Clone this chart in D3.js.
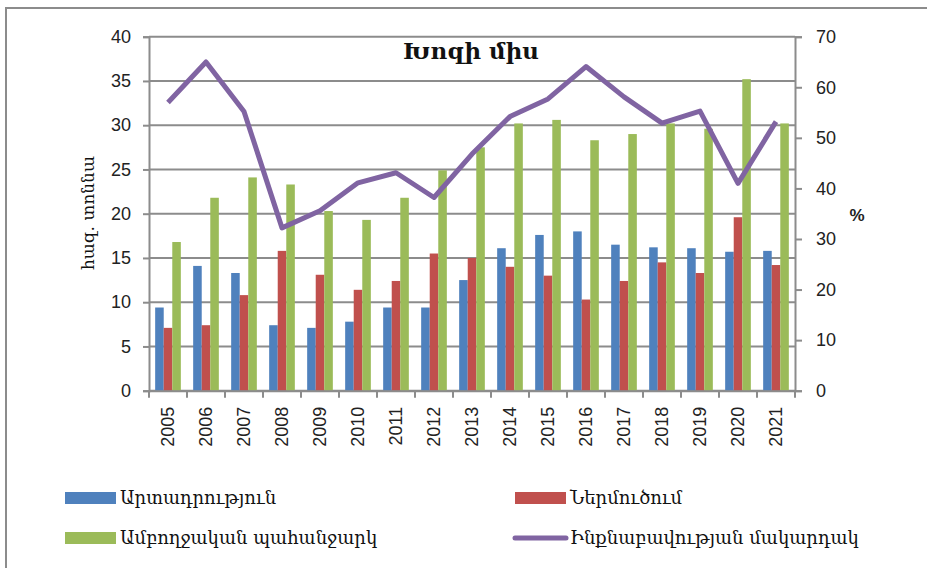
<!DOCTYPE html>
<html>
<head>
<meta charset="utf-8">
<script src="https://cdn.jsdelivr.net/npm/d3@7"></script>
<style>
  body { margin: 0; background: #fff; }
  .tick text { font-family: "Liberation Sans", Arial, sans-serif; fill: #222; }
  .arm { font-family: "DejaVu Serif", serif; fill: #111; }
</style>
</head>
<body>
<div id="chart"></div>
<script>
// data
let years = ["2005","2006","2007","2008","2009","2010","2011","2012","2013","2014","2015","2016","2017","2018","2019","2020","2021"];
let production = [9.4, 14.1, 13.3, 7.4, 7.1, 7.8, 9.4, 9.4, 12.5, 16.1, 17.6, 18.0, 16.5, 16.2, 16.1, 15.7, 15.8];
let imports = [7.1, 7.4, 10.8, 15.8, 13.1, 11.4, 12.4, 15.5, 15.0, 14.0, 13.0, 10.3, 12.4, 14.5, 13.3, 19.6, 14.2];
let demand = [16.8, 21.8, 24.1, 23.3, 20.3, 19.3, 21.8, 24.9, 27.5, 30.2, 30.6, 28.3, 29.0, 30.2, 29.6, 35.2, 30.2];
let selfSufficiency = [57, 65, 55.2, 32.2, 35.6, 41.1, 43.1, 38.2, 46.8, 54.2, 57.7, 64.1, 58.1, 52.9, 55.3, 41.0, 53.2];

let leftTicks = [0, 5, 10, 15, 20, 25, 30, 35, 40];
let rightTicks = [0, 10, 20, 30, 40, 50, 60, 70];

let seriesNames = ["Արտադրություն", "Ներմուծում", "Ամբողջական պահանջարկ", "Ինքնաբավության մակարդակ"];
let colors = ["#4F81BD", "#C0504D", "#9BBB59", "#8064A2"];

let svgWidth = 927;
let svgHeight = 568;

// plot area
let plot = { left: 149, right: 795, top: 36.7, bottom: 390.7 };

let svg = d3.select("#chart")
    .append("svg")
    .attr("width", svgWidth)
    .attr("height", svgHeight);

// outer frame (runs off the right and bottom edges in the reference)
svg.append("rect")
    .attr("x", 6).attr("y", 8)
    .attr("width", 1000).attr("height", 700)
    .attr("fill", "none")
    .attr("stroke", "#8c8c8c")
    .attr("stroke-width", 2);

let x = d3.scaleBand().domain(years).range([plot.left, plot.right]);
let x1 = d3.scaleBand().domain([0, 1, 2]).range([0, x.bandwidth()]).paddingOuter(0.72);
let yLeft = d3.scaleLinear().domain([0, 40]).range([plot.bottom, plot.top]);
let yRight = d3.scaleLinear().domain([0, 70]).range([plot.bottom, plot.top]);

// gridlines
svg.append("g")
    .selectAll("line")
    .data(leftTicks)
    .enter()
    .append("line")
    .attr("x1", plot.left).attr("x2", plot.right)
    .attr("y1", d => yLeft(d)).attr("y2", d => yLeft(d))
    .attr("stroke", "#8c8c8c")
    .attr("stroke-width", 2);

// bars
let barSeries = [production, imports, demand];
barSeries.forEach(function(vals, i) {
    svg.append("g")
        .selectAll("rect")
        .data(vals)
        .enter()
        .append("rect")
        .attr("x", (d, j) => x(years[j]) + x1(i))
        .attr("y", d => yLeft(d))
        .attr("width", x1.bandwidth())
        .attr("height", d => yLeft(0) - yLeft(d))
        .attr("fill", colors[i]);
});

// axes
let leftAxis = d3.axisLeft(yLeft).tickValues(leftTicks).tickSize(6).tickPadding(12);
let rightAxis = d3.axisRight(yRight).tickValues(rightTicks).tickSize(7).tickPadding(14);
let bottomAxis = d3.axisBottom(x).tickSize(0).tickFormat("");

let gl = svg.append("g").attr("transform", `translate(${plot.left},0)`).call(leftAxis);
let gr = svg.append("g").attr("transform", `translate(${plot.right},0)`).call(rightAxis);
let gb = svg.append("g").attr("transform", `translate(0,${plot.bottom})`).call(bottomAxis);

[gl, gr, gb].forEach(function(g) {
    g.select(".domain").attr("stroke", "#8c8c8c").attr("stroke-width", 2);
    g.selectAll(".tick line").attr("stroke", "#8c8c8c").attr("stroke-width", 2);
    g.selectAll(".tick text").attr("font-size", 18);
});

// category tick marks at band edges
svg.append("g")
    .selectAll("line")
    .data(years.concat(["end"]))
    .enter()
    .append("line")
    .attr("x1", (d, i) => plot.left + i * x.step())
    .attr("x2", (d, i) => plot.left + i * x.step())
    .attr("y1", plot.bottom).attr("y2", plot.bottom + 7)
    .attr("stroke", "#8c8c8c")
    .attr("stroke-width", 2);

// year labels, rotated
svg.append("g")
    .selectAll("text")
    .data(years)
    .enter()
    .append("text")
    .attr("transform", d => `translate(${x(d) + x.bandwidth() / 2 + 6}, ${plot.bottom + 16}) rotate(-90)`)
    .attr("text-anchor", "end")
    .attr("font-family", "Liberation Sans, Arial, sans-serif")
    .attr("font-size", 18)
    .attr("fill", "#222")
    .text(d => d);

// self-sufficiency line
let line = d3.line()
    .x((d, i) => x(years[i]) + x.bandwidth() / 2)
    .y(d => yRight(d));

svg.append("path")
    .datum(selfSufficiency)
    .attr("d", line)
    .attr("fill", "none")
    .attr("stroke", colors[3])
    .attr("stroke-width", 5)
    .attr("stroke-linejoin", "round");

// title
svg.append("text")
    .attr("class", "arm")
    .attr("x", 471).attr("y", 59)
    .attr("text-anchor", "middle")
    .attr("font-size", 23)
    .attr("font-weight", "bold")
    .text("Խոզի միս");

// axis titles
svg.append("text")
    .attr("class", "arm")
    .attr("transform", "translate(94, 213) rotate(-90)")
    .attr("text-anchor", "middle")
    .attr("font-size", 17)
    .text("հազ. տոննա");

svg.append("text")
    .attr("x", 857).attr("y", 221)
    .attr("text-anchor", "middle")
    .attr("font-family", "Liberation Sans, Arial, sans-serif")
    .attr("font-size", 17)
    .attr("font-weight", "bold")
    .attr("fill", "#222")
    .text("%");

// legend
let legendItems = [
    { name: seriesNames[0], color: colors[0], x: 65, y: 498, kind: "bar" },
    { name: seriesNames[1], color: colors[1], x: 515, y: 498, kind: "bar" },
    { name: seriesNames[2], color: colors[2], x: 65, y: 538, kind: "bar" },
    { name: seriesNames[3], color: colors[3], x: 515, y: 538, kind: "line" }
];

let legend = svg.append("g");
legendItems.forEach(function(item) {
    if (item.kind === "bar") {
        legend.append("rect")
            .attr("x", item.x).attr("y", item.y - 6)
            .attr("width", 51).attr("height", 12)
            .attr("fill", item.color);
    } else {
        legend.append("line")
            .attr("x1", item.x).attr("x2", item.x + 51)
            .attr("y1", item.y).attr("y2", item.y)
            .attr("stroke", item.color)
            .attr("stroke-width", 5)
            .attr("stroke-linecap", "round");
    }
    legend.append("text")
        .attr("class", "arm")
        .attr("x", item.x + 55).attr("y", item.y + 6)
        .attr("font-size", 18)
        .text(item.name);
});
</script>
</body>
</html>
